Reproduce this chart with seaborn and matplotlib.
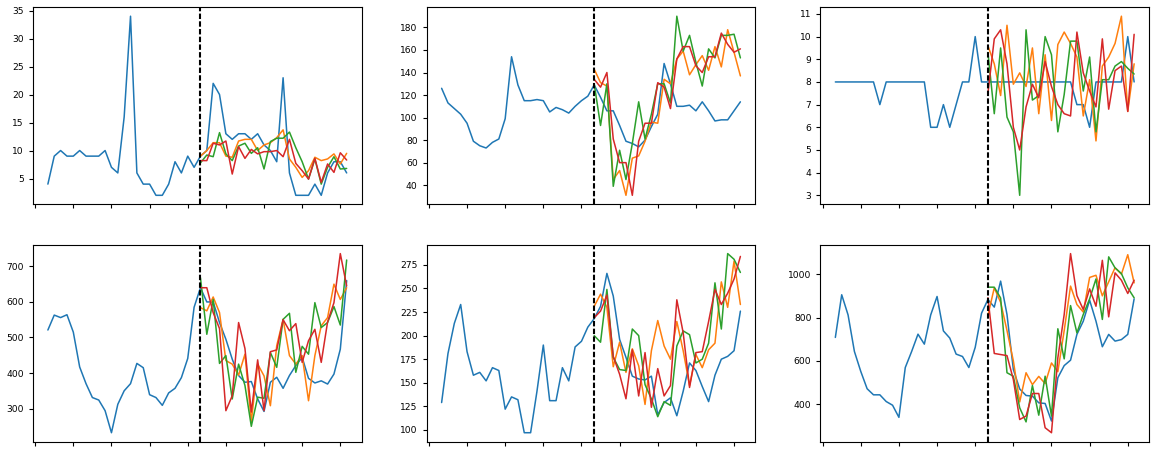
import numpy as np
import pandas as pd
import matplotlib
matplotlib.use("Agg")
import matplotlib.pyplot as plt
from matplotlib.ticker import MultipleLocator, FixedLocator, NullFormatter
import seaborn as sns

# ---------------- data ----------------
forecast_start = 24
n_points = 48

p1_actual = [4, 9, 10, 9, 9, 10, 9, 9, 9, 10, 7, 6, 16, 34, 6, 4, 4, 2, 2, 4, 8, 6, 9, 7,
             9, 10, 22, 20, 13, 12, 13, 13, 12, 13, 11, 10, 8, 23, 6, 2, 2, 2, 4, 2, 6, 8, 8, 6]
p1_orange = [9, 10, 11.4, 11.4, 9, 8.8, 11.7, 12, 12, 10, 11, 11.4, 12.3, 13.7, 8.5, 7, 5.2, 6.4, 8.8, 8.2, 8.5, 9.4, 7.6, 9.5]
p1_green = [7.8, 9.2, 8.9, 13.2, 9.4, 8.2, 10.8, 11.3, 9.5, 10.5, 6.7, 11.6, 12.2, 12.2, 13.3, 10.5, 8, 4.9, 8.5, 4, 7, 8.9, 6.7, 6.8]
p1_red = [8.2, 8.2, 11.3, 11, 11.7, 5.8, 10.7, 8.6, 10.2, 9.4, 9.8, 9.8, 10, 8.9, 12, 7.7, 6.4, 4.9, 8.6, 4.3, 7.6, 6.1, 9.6, 8.3]

p2_actual = [126, 113, 108, 103, 95, 79, 75, 73, 78, 81, 99, 154, 129, 115, 115, 116, 115, 105, 109, 107, 104, 110, 115, 119,
             129, 118, 106, 106, 93, 79, 77, 74, 80, 92, 103, 148, 130, 110, 110, 111, 106, 114, 106, 97, 98, 98, 106, 114]
p2_orange = [143, 131, 128, 45, 53, 31, 64, 66, 79, 96, 95, 134, 130, 152, 159, 138, 147, 155, 142, 163, 145, 178, 158, 137]
p2_green = [130, 93, 130, 39, 71, 45, 77, 114, 81, 103, 130, 130, 113, 190, 159, 173, 149, 128, 161, 153, 173, 173, 174, 153]
p2_red = [134, 127, 140, 81, 60, 60, 31, 79, 95, 95, 131, 127, 108, 152, 163, 163, 146, 140, 154, 154, 175, 165, 158, 161]

p3_actual = [8, 8, 8, 8, 8, 8, 8, 7, 8, 8, 8, 8, 8, 8, 8, 6, 6, 7, 6, 7, 8, 8, 10, 8,
             8, 8, 8, 8, 8, 8, 8, 8, 8, 8, 8, 8, 8, 8, 7, 7, 6, 8, 8, 8, 8, 8, 10, 8]
p3_orange = [9.6, 8.8, 7.4, 10.5, 7.9, 8.4, 7.8, 9.5, 6.6, 9.2, 6.3, 9.65, 10.2, 9.7, 9.1, 6.5, 8.1, 5.4, 8.7, 9.1, 9.7, 10.9, 6.7, 8.8]
p3_green = [9.3, 6.6, 9.5, 6.45, 5.8, 3.0, 10.3, 7.2, 7.4, 10.0, 9.2, 5.8, 7.45, 9.8, 9.8, 7.6, 9.1, 5.8, 8.1, 8.1, 8.7, 8.9, 8.6, 8.35]
p3_red = [7.5, 9.9, 10.3, 8.8, 6.0, 5.0, 6.9, 7.9, 7.3, 8.9, 7.8, 7.0, 6.6, 6.5, 10.2, 8.4, 7.6, 6.9, 9.9, 6.8, 8.5, 8.7, 6.7, 10.1]

p4_actual = [521, 563, 556, 564, 515, 417, 370, 331, 324, 294, 232, 312, 350, 370, 427, 415, 339, 331, 309, 344, 357, 387, 441, 585,
             640, 600, 600, 542, 495, 439, 393, 374, 376, 327, 292, 374, 388, 357, 393, 421, 444, 385, 372, 378, 369, 397, 467, 660]
p4_orange = [584, 575, 614, 570, 435, 425, 394, 453, 263, 425, 392, 308, 477, 551, 449, 425, 449, 322, 449, 533, 556, 650, 607, 640]
p4_green = [668, 509, 607, 427, 449, 327, 425, 365, 250, 332, 329, 458, 416, 551, 568, 402, 475, 453, 598, 528, 542, 587, 535, 718]
p4_red = [640, 640, 570, 525, 294, 336, 542, 469, 290, 437, 294, 460, 465, 550, 519, 539, 430, 491, 523, 430, 544, 598, 736, 645]

p5_actual = [129, 181, 213, 233, 183, 158, 161, 152, 166, 163, 122, 135, 132, 97, 97, 141, 190, 131, 131, 166, 152, 188, 194, 209,
             218, 231, 266, 242, 196, 177, 157, 154, 153, 157, 116, 129, 134, 115, 141, 171, 163, 146, 130, 158, 175, 178, 184, 226]
p5_orange = [231, 244, 230, 167, 193, 161, 186, 168, 127, 184, 216, 189, 175, 215, 184, 147, 180, 166, 185, 192, 257, 230, 279, 233]
p5_green = [200, 193, 249, 177, 164, 163, 207, 200, 148, 133, 114, 130, 126, 189, 205, 201, 171, 175, 192, 256, 207, 287, 281, 267]
p5_red = [219, 226, 243, 178, 159, 133, 185, 136, 182, 124, 165, 136, 147, 238, 203, 145, 182, 183, 215, 249, 233, 245, 260, 284]

p6_actual = [708, 905, 812, 643, 551, 471, 443, 443, 412, 395, 339, 569, 643, 723, 677, 812, 897, 738, 705, 631, 620, 569, 662, 820,
             883, 848, 968, 814, 560, 470, 440, 437, 406, 403, 322, 522, 578, 603, 722, 783, 880, 783, 665, 722, 691, 698, 722, 886]
p6_orange = [810, 937, 870, 740, 600, 410, 545, 490, 528, 495, 590, 550, 740, 945, 860, 825, 985, 995, 900, 965, 1030, 1000, 1090, 960]
p6_green = [940, 940, 890, 545, 529, 383, 318, 486, 349, 529, 345, 748, 609, 855, 729, 814, 886, 978, 791, 1080, 1029, 1003, 937, 891]
p6_red = [891, 634, 629, 624, 514, 329, 345, 449, 449, 291, 268, 614, 814, 1095, 901, 837, 932, 852, 1064, 803, 1006, 972, 911, 972]

panels = [
    (p1_actual, p1_orange, p1_green, p1_red, 5),
    (p2_actual, p2_orange, p2_green, p2_red, 20),
    (p3_actual, p3_orange, p3_green, p3_red, 1),
    (p4_actual, p4_orange, p4_green, p4_red, 100),
    (p5_actual, p5_orange, p5_green, p5_red, 25),
    (p6_actual, p6_orange, p6_green, p6_red, 200),
]

palette = {"actual": "#1f77b4", "f1": "#ff7f0e", "f2": "#2ca02c", "f3": "#d62728"}

# ---------------- style ----------------
sns.set_style("ticks", {"axes.edgecolor": "black", "xtick.color": "black",
                        "ytick.color": "black", "text.color": "black"})
plt.rcParams["font.family"] = ["DejaVu Sans"]
plt.rcParams["xtick.labelsize"] = 6.6
plt.rcParams["ytick.labelsize"] = 6.6
plt.rcParams["xtick.major.size"] = 3
plt.rcParams["ytick.major.size"] = 3
plt.rcParams["axes.linewidth"] = 0.8

fig, axes = plt.subplots(2, 3, figsize=(11.56, 4.53), dpi=100)
fig.subplots_adjust(left=0.0285, right=0.994, top=0.984, bottom=0.025,
                    wspace=0.198, hspace=0.205)

x_hist = np.arange(n_points)
x_fc = np.arange(forecast_start, n_points)

for ax, (actual, f1, f2, f3, ystep) in zip(axes.flat, panels):
    df = pd.concat([
        pd.DataFrame({"x": x_hist, "y": actual, "series": "actual"}),
        pd.DataFrame({"x": x_fc, "y": f1, "series": "f1"}),
        pd.DataFrame({"x": x_fc, "y": f2, "series": "f2"}),
        pd.DataFrame({"x": x_fc, "y": f3, "series": "f3"}),
    ], ignore_index=True)
    sns.lineplot(data=df, x="x", y="y", hue="series", palette=palette,
                 hue_order=["actual", "f1", "f2", "f3"], estimator=None,
                 sort=False, linewidth=1.1, legend=False, ax=ax)
    ax.axvline(forecast_start, color="black", linestyle=(0, (2.6, 1.1)), linewidth=1.5)
    ax.set_xlabel("")
    ax.set_ylabel("")
    ax.xaxis.set_major_locator(FixedLocator(list(range(-2, n_points, 6))))
    ax.xaxis.set_major_formatter(NullFormatter())
    ax.yaxis.set_major_locator(MultipleLocator(ystep))
    ax.margins(x=0.05, y=0.05)

fig.savefig("out.png", dpi=100)
